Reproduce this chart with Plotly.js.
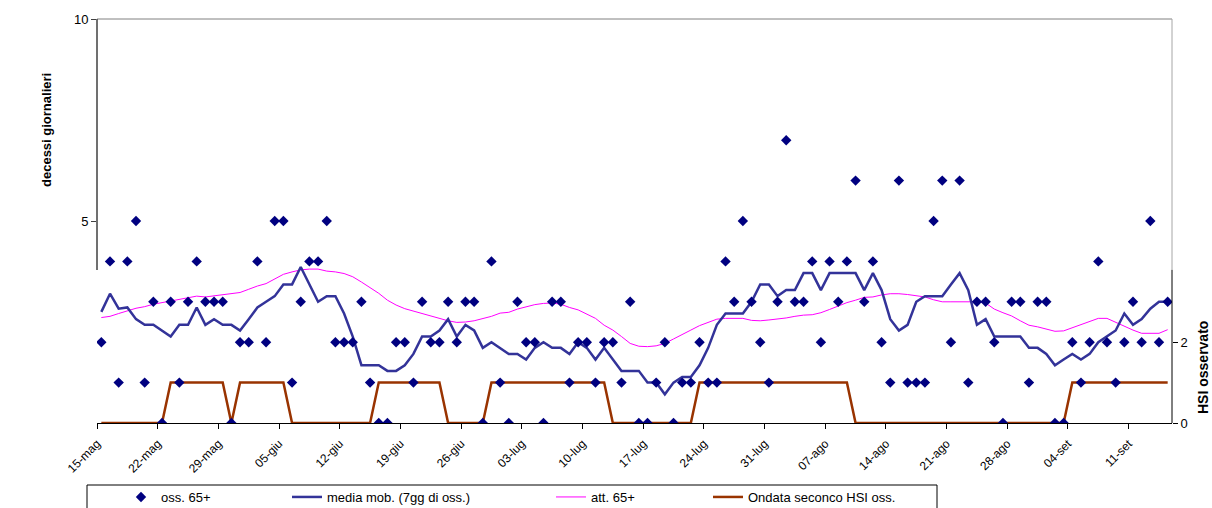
<!DOCTYPE html>
<html>
<head>
<meta charset="utf-8">
<script src="https://cdn.plot.ly/plotly-3.0.1.min.js"></script>
<style>
  html, body { margin: 0; padding: 0; background: #fff; }
  #chart { width: 1212px; height: 508px; }
</style>
</head>
<body>
<div id="chart"></div>
<script>
// Daily series, 15-mag .. 15-set (one value per day)
const oss65 = [2,4,1,4,5,1,3,0,3,1,3,4,3,3,3,0,2,2,4,2,
  5,5,1,3,4,4,5,2,2,2,3,1,0,0,2,2,1,3,2,2,
  3,2,3,3,0,4,1,0,3,2,2,0,3,3,1,2,2,1,2,2,
  1,3,0,0,1,2,0,1,1,2,1,1,4,3,5,3,2,1,3,7,
  3,3,4,2,4,3,4,6,3,4,2,1,6,1,1,1,5,6,2,6,
  1,3,3,2,0,3,3,1,3,3,0,0,2,1,2,4,2,1,2,3,
  2,5,2,3];

const mediaMob = [2.75,3.2,2.83,2.86,2.57,2.43,2.43,2.29,2.14,2.43,
  2.43,2.86,2.43,2.57,2.43,2.43,2.29,2.57,2.86,3.0,
  3.14,3.43,3.43,3.86,3.43,3.0,3.14,3.14,2.71,2.14,
  1.43,1.43,1.43,1.29,1.29,1.43,1.71,2.14,2.14,2.29,
  2.57,2.14,2.43,2.29,1.86,2.0,1.86,1.71,1.71,1.57,
  1.86,2.0,1.86,1.86,1.71,2.0,1.86,1.57,1.86,1.57,
  1.29,1.29,1.29,1.0,1.0,0.71,1.0,1.14,1.14,1.43,
  1.86,2.43,2.71,2.71,2.71,3.0,3.43,3.43,3.14,3.29,
  3.29,3.71,3.71,3.29,3.71,3.71,3.71,3.71,3.29,3.71,
  3.29,2.57,2.29,2.43,3.0,3.14,3.14,3.14,3.43,3.71,
  3.29,2.43,2.57,2.14,2.14,2.14,2.14,1.86,1.86,1.71,
  1.43,1.57,1.71,1.57,1.71,2.0,2.14,2.29,2.71,2.43,
  2.57,2.83,3.0,3.0];

const att65 = [2.61,2.64,2.71,2.78,2.84,2.88,2.94,2.98,3.02,3.06,
  3.10,3.14,3.12,3.15,3.18,3.2,3.23,3.31,3.39,3.45,
  3.56,3.68,3.74,3.79,3.81,3.81,3.76,3.74,3.70,3.62,
  3.49,3.35,3.21,3.04,2.92,2.83,2.77,2.71,2.65,2.6,
  2.53,2.49,2.5,2.53,2.59,2.64,2.72,2.74,2.82,2.87,
  2.93,2.96,2.97,2.94,2.86,2.8,2.69,2.59,2.42,2.30,
  2.14,1.97,1.90,1.89,1.91,1.97,2.08,2.2,2.30,2.41,
  2.5,2.57,2.59,2.59,2.59,2.54,2.53,2.55,2.57,2.6,
  2.64,2.67,2.68,2.73,2.81,2.9,2.98,3.04,3.11,3.12,
  3.17,3.2,3.2,3.18,3.15,3.12,3.05,3.0,3.0,3.0,
  3.0,3.0,2.97,2.82,2.73,2.65,2.53,2.42,2.38,2.32,
  2.27,2.28,2.36,2.45,2.53,2.59,2.59,2.49,2.38,2.3,
  2.22,2.22,2.22,2.31];

const ondataHSI = [0,0,0,0,0,0,0,0,1,1,1,1,1,1,1,0,1,1,1,1,
  1,1,0,0,0,0,0,0,0,0,0,0,1,1,1,1,1,1,1,1,
  0,0,0,0,0,1,1,1,1,1,1,1,1,1,1,1,1,1,1,0,
  0,0,0,0,0,0,0,0,0,1,1,1,1,1,1,1,1,1,1,1,
  1,1,1,1,1,1,1,0,0,0,0,0,0,0,0,0,0,0,0,0,
  0,0,0,0,0,0,0,0,0,0,0,0,1,1,1,1,1,1,1,1,
  1,1,1,1];

const tickLabels = ['15-mag','22-mag','29-mag','05-giu','12-giu','19-giu','26-giu',
  '03-lug','10-lug','17-lug','24-lug','31-lug','07-ago','14-ago','21-ago','28-ago',
  '04-set','11-set'];

const seriesNames = ['oss. 65+', 'media mob. (7gg di oss.)', 'att. 65+', 'Ondata seconco HSI oss.'];

// day index for each daily value
const dayIdx = oss65.map((_, i) => i);
// weekly ticks sit on the boundary before each labelled day
const tickPos = tickLabels.map((_, k) => k * 7 - 0.5);

const W = 1212, H = 508, ML = 97, MR = 40, MT = 19, MB = 85;
const PW = W - ML - MR, PH = H - MT - MB;
const px = v => (v - ML) / PW;          // pixel x -> paper x
const py = v => (H - MB - v) / PH;      // pixel y -> paper y

const FONT = 'Liberation Sans, Arial, Helvetica, sans-serif';

const traces = [
  { x: dayIdx, y: att65, type: 'scatter', mode: 'lines', name: seriesNames[2],
    line: { color: '#FF00FF', width: 1 }, legend: 'legend3', hoverinfo: 'skip' },
  { x: dayIdx, y: mediaMob, type: 'scatter', mode: 'lines', name: seriesNames[1],
    line: { color: '#333399', width: 2.5 }, legend: 'legend2', hoverinfo: 'skip' },
  { x: dayIdx, y: ondataHSI, yaxis: 'y2', type: 'scatter', mode: 'lines', name: seriesNames[3],
    line: { color: '#993300', width: 2.5 }, legend: 'legend4', hoverinfo: 'skip' },
  { x: dayIdx, y: oss65, yaxis: 'y2', type: 'scatter', mode: 'markers', name: seriesNames[0],
    marker: { symbol: 'diamond', size: 8, color: '#000080' }, legend: 'legend', hoverinfo: 'skip' }
];

const legendBase = {
  orientation: 'h', xanchor: 'left', yanchor: 'middle', y: py(497),
  bgcolor: 'rgba(0,0,0,0)', borderwidth: 0, font: { family: FONT, size: 13, color: '#000' }
};

const layout = {
  width: W, height: H,
  margin: { l: ML, r: MR, t: MT, b: MB, pad: 0, autoexpand: false },
  paper_bgcolor: '#fff', plot_bgcolor: '#fff',
  font: { family: FONT, color: '#000' },
  showlegend: true,
  xaxis: {
    range: [-0.5, 123.5], tickmode: 'array', tickvals: tickPos, ticktext: tickLabels,
    tickangle: -45, ticks: 'outside', ticklen: 5, tickcolor: '#000', tickwidth: 1,
    ticklabelstandoff: 3,
    showline: true, linecolor: '#000', linewidth: 1, showgrid: false, zeroline: false,
    tickfont: { family: FONT, size: 12, color: '#000' }, fixedrange: true, automargin: false
  },
  yaxis: {
    range: [0, 10], tickmode: 'array', tickvals: [5, 10], ticks: 'outside', ticklen: 5,
    tickcolor: '#404040', showline: false, showgrid: false, zeroline: false,
    tickfont: { family: FONT, size: 13, color: '#000' }, fixedrange: true, automargin: false
  },
  yaxis2: {
    overlaying: 'y', side: 'right', anchor: 'x', range: [0, 10], tickmode: 'array', tickvals: [0, 2],
    ticks: 'outside', ticklen: 5, tickcolor: '#000', showline: false, showgrid: false, zeroline: false,
    tickfont: { family: FONT, size: 13, color: '#000' }, fixedrange: true, automargin: false
  },
  legend:  Object.assign({}, legendBase, { x: px(121) }),
  legend2: Object.assign({}, legendBase, { x: px(287) }),
  legend3: Object.assign({}, legendBase, { x: px(551) }),
  legend4: Object.assign({}, legendBase, { x: px(708) }),
  shapes: [
    { type: 'line', xref: 'paper', yref: 'paper', x0: 0, x1: 1, y0: 1, y1: 1, line: { color: '#808080', width: 1 } },
    { type: 'line', xref: 'paper', yref: 'y', x0: 1, x1: 1, y0: 3.79, y1: 10, line: { color: '#a6a6a6', width: 1 } },
    { type: 'line', xref: 'paper', yref: 'y', x0: 0, x1: 0, y0: 3.79, y1: 10, line: { color: '#404040', width: 1.5 } },
    { type: 'line', xref: 'paper', yref: 'y', x0: 1, x1: 1, y0: 0, y1: 3.79, line: { color: '#000', width: 1 } },
    { type: 'rect', xref: 'paper', yref: 'paper', x0: px(87), x1: px(937), y0: py(485), y1: py(530),
      line: { color: '#000', width: 1 }, fillcolor: 'rgba(0,0,0,0)' }
  ],
  annotations: [
    { text: '<b>decessi giornalieri</b>', xref: 'paper', yref: 'paper', x: px(46), y: py(130),
      textangle: -90, showarrow: false, xanchor: 'center', yanchor: 'middle',
      font: { family: FONT, size: 13, color: '#000' } },
    { text: '<b>HSI osservato</b>', xref: 'paper', yref: 'paper', x: px(1203), y: py(367),
      textangle: -90, showarrow: false, xanchor: 'center', yanchor: 'middle',
      font: { family: FONT, size: 14, color: '#000' } }
  ]
};

Plotly.newPlot('chart', traces, layout, { displayModeBar: false, staticPlot: true });
</script>
</body>
</html>
